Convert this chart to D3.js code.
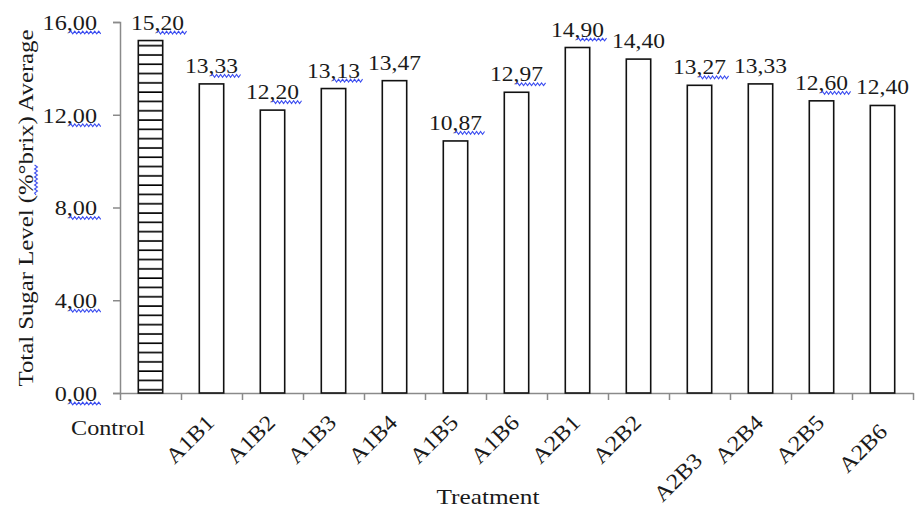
<!DOCTYPE html>
<html>
<head>
<meta charset="utf-8">
<script src="https://cdn.jsdelivr.net/npm/d3@7"></script>
<style>
  body { margin: 0; background: #fff; }
  text { font-family: "Liberation Serif", "Times New Roman", serif; fill: #1a1a1a; }
</style>
</head>
<body>
<div id="chart"></div>
<script>
// data
const treatments = ["Control", "A1B1", "A1B2", "A1B3", "A1B4", "A1B5", "A1B6",
                    "A2B1", "A2B2", "A2B3", "A2B4", "A2B5", "A2B6"];
const sugar = [15.20, 13.33, 12.20, 13.13, 13.47, 10.87, 12.97,
               14.90, 14.40, 13.27, 13.33, 12.60, 12.40];
const yTicks = [0, 4, 8, 12, 16];
// labels the word processor underlined with a squiggle
const flagged = ["Control", "A1B1", "A1B2", "A1B3", "A1B5", "A1B6", "A2B1", "A2B3", "A2B5"];

const width = 920, height = 510;
const plotLeft = 120, plotRight = 913, plotTop = 22, plotBottom = 393;
const stretch = 1.1; // the source picture is a bit wider than tall
const fmt = d => d.toFixed(2).replace(".", ",");

const svg = d3.select("#chart").append("svg")
    .attr("width", width)
    .attr("height", height);

const x = d3.scaleBand()
    .domain(treatments)
    .range([plotLeft, plotRight])
    .paddingInner(0.6)
    .paddingOuter(0.3);
const xEdge = d3.scaleLinear()
    .domain([0, treatments.length])
    .range([plotLeft, plotRight]);
const y = d3.scaleLinear()
    .domain([0, 16])
    .range([plotBottom, plotTop]);

// widen a text and return its natural length and comma offset (scaled)
function widen(t, k) {
    const w = t.getComputedTextLength();
    const s = t.textContent;
    const i = s.indexOf(",");
    const c = i > 0 ? t.getSubStringLength(0, i) : 0;
    t.setAttribute("textLength", w * k);
    t.setAttribute("lengthAdjust", "spacingAndGlyphs");
    return { w: w * k, c: c * k };
}

// striped fill for the control bar
const pat = svg.append("defs").append("pattern")
    .attr("id", "stripes")
    .attr("patternUnits", "userSpaceOnUse")
    .attr("width", 40)
    .attr("height", 9.3);
pat.append("rect").attr("width", 40).attr("height", 9.3).attr("fill", "#fff");
pat.append("line")
    .attr("x1", 0).attr("x2", 40)
    .attr("y1", 8.5).attr("y2", 8.5)
    .attr("stroke", "#000")
    .attr("stroke-width", 1.6);

// blue spell-check wave
function wave(g, x0, x1, yy) {
    let d = "M" + x0 + "," + yy;
    let up = true;
    for (let xx = x0 + 2; xx <= x1; xx += 2) {
        d += " L" + xx + "," + (yy + (up ? -1.4 : 1.4));
        up = !up;
    }
    g.append("path")
        .attr("d", d)
        .attr("fill", "none")
        .attr("stroke", "#3a4cf0")
        .attr("stroke-width", 1.1);
}

// y axis
const yAxis = svg.append("g")
    .attr("transform", `translate(${plotLeft},0)`)
    .call(d3.axisLeft(y).tickValues(yTicks).tickSize(7).tickPadding(16).tickFormat(fmt));
yAxis.selectAll("path, line").attr("stroke", "#8a8a8a").attr("stroke-width", 1.5);
yAxis.selectAll("text")
    .attr("font-size", 22)
    .attr("font-family", "Liberation Serif")
    .attr("fill", "#1a1a1a")
    .attr("dy", "0.33em")
    .each(function () {
        const m = widen(this, stretch);
        const tx = +this.getAttribute("x");
        wave(d3.select(this.parentNode), tx - m.w + m.c + 2, tx + 5, 10);
    });

// x axis with ticks at the category edges
const xAxis = svg.append("g")
    .attr("transform", `translate(0,${plotBottom})`)
    .call(d3.axisBottom(xEdge).ticks(treatments.length).tickSize(7).tickSizeOuter(0).tickFormat(""));
xAxis.selectAll("path, line").attr("stroke", "#8a8a8a").attr("stroke-width", 1.5);

// bars
svg.selectAll(".bar")
    .data(treatments)
    .join("rect")
    .attr("class", "bar")
    .attr("x", d => x(d))
    .attr("width", x.bandwidth())
    .attr("y", (d, i) => y(sugar[i]))
    .attr("height", (d, i) => y(0) - y(sugar[i]))
    .attr("fill", d => d === "Control" ? "url(#stripes)" : "#fff")
    .attr("stroke", "#111")
    .attr("stroke-width", 1.6);

// value labels
const vals = svg.append("g");
vals.selectAll("text")
    .data(treatments)
    .join("text")
    .attr("x", d => x(d) + x.bandwidth() / 2 + (d === "Control" ? 7 : 0))
    .attr("y", (d, i) => y(sugar[i]) - 11)
    .attr("text-anchor", "middle")
    .attr("font-size", 22)
    .text((d, i) => fmt(sugar[i]))
    .each(function (d) {
        const m = widen(this, stretch * 0.97);
        if (!flagged.includes(d)) return;
        const x0 = +this.getAttribute("x") - m.w / 2;
        wave(vals, x0 + m.c + 2, x0 + m.w + 4, +this.getAttribute("y") + 3);
    });

// category labels
const nudge = { A2B3: [0, 38], A2B6: [2, 9] };
svg.append("g").selectAll("text")
    .data(treatments)
    .join("text")
    .attr("font-size", 22)
    .attr("text-anchor", d => d === "Control" ? "middle" : "end")
    .attr("transform", d => {
        if (d === "Control") return `translate(108,435)`;
        const n = nudge[d] || [0, 0];
        const cx = x(d) + x.bandwidth() / 2 + 4 + n[0];
        return `translate(${cx},${424 + n[1]}) rotate(-45)`;
    })
    .text(d => d)
    .each(function () { widen(this, stretch); });

// axis titles
svg.append("text")
    .attr("x", 488)
    .attr("y", 504)
    .attr("text-anchor", "middle")
    .attr("font-size", 22)
    .text("Treatment")
    .each(function () { widen(this, 103 / this.getComputedTextLength()); });

const yt = svg.append("g").attr("transform", "translate(33,208) rotate(-90)");
const ytText = yt.append("text")
    .attr("text-anchor", "middle")
    .attr("font-size", 22)
    .text("Total Sugar Level (%°brix) Average");
{
    const t = ytText.node(), s = t.textContent;
    const w = t.getComputedTextLength();
    const k = 357 / w;
    const a = t.getSubStringLength(0, s.indexOf("%")) * k;
    const b = t.getSubStringLength(0, s.indexOf("b")) * k;
    widen(t, k);
    wave(yt, -w * k / 2 + a, -w * k / 2 + b, 3);
}
</script>
</body>
</html>
